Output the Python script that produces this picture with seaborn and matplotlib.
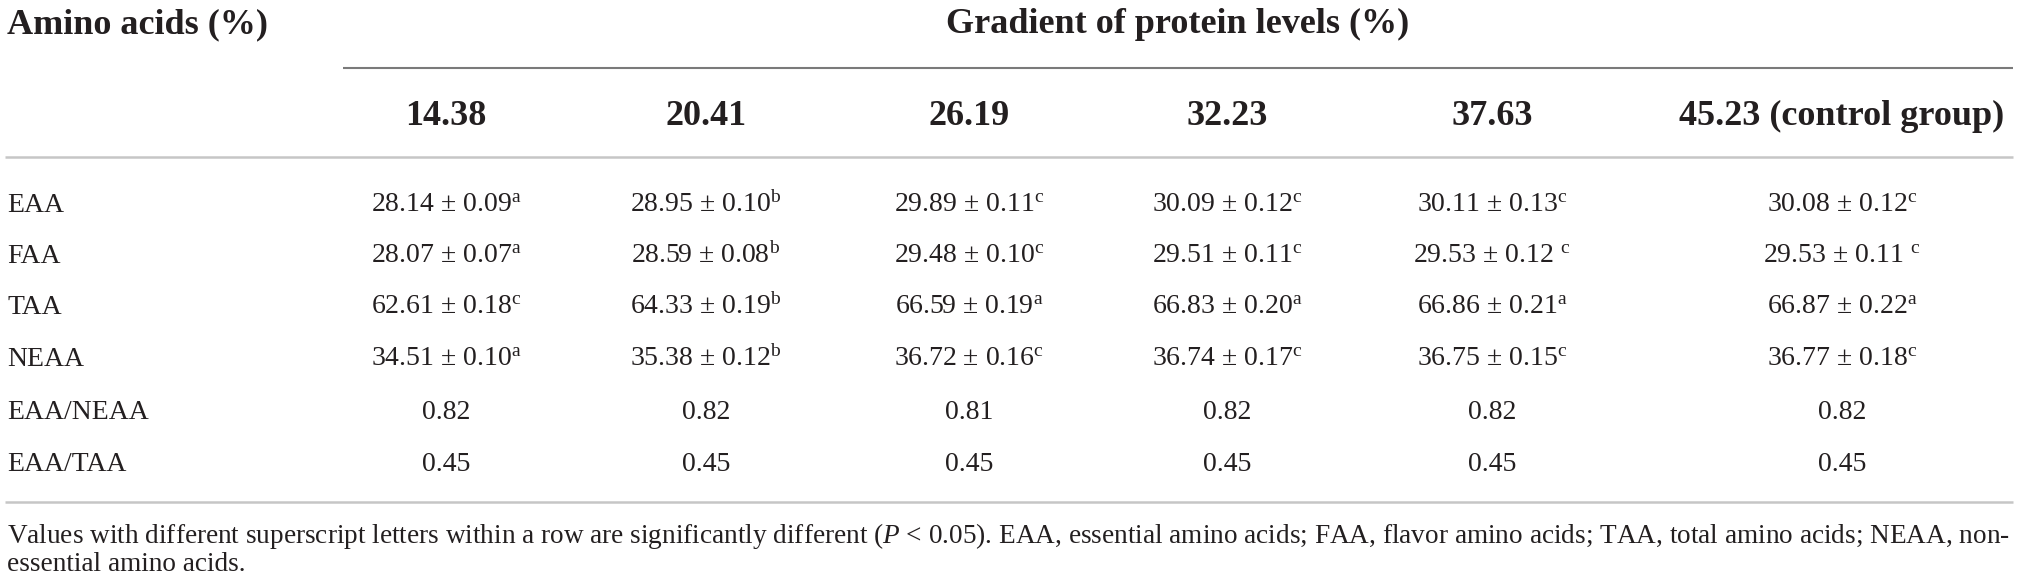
import matplotlib
matplotlib.use("Agg")
import matplotlib.pyplot as plt
import seaborn as sns

# ---------------- data ----------------
stub_header = "Amino acids (%)"
spanner_header = "Gradient of protein levels (%)"
protein_levels = ["14.38", "20.41", "26.19", "32.23", "37.63", "45.23 (control group)"]
row_labels = ["EAA", "FAA", "TAA", "NEAA", "EAA/NEAA", "EAA/TAA"]

eaa_mean = [28.14, 28.95, 29.89, 30.09, 30.11, 30.08]
eaa_sd = [0.09, 0.10, 0.11, 0.12, 0.13, 0.12]
eaa_letter = ["a", "b", "c", "c", "c", "c"]

faa_mean = [28.07, 28.59, 29.48, 29.51, 29.53, 29.53]
faa_sd = [0.07, 0.08, 0.10, 0.11, 0.12, 0.11]
faa_letter = ["a", "b", "c", "c", " c", " c"]

taa_mean = [62.61, 64.33, 66.59, 66.83, 66.86, 66.87]
taa_sd = [0.18, 0.19, 0.19, 0.20, 0.21, 0.22]
taa_letter = ["c", "b", "a", "a", "a", "a"]

neaa_mean = [34.51, 35.38, 36.72, 36.74, 36.75, 36.77]
neaa_sd = [0.10, 0.12, 0.16, 0.17, 0.15, 0.18]
neaa_letter = ["a", "b", "c", "c", "c", "c"]

eaa_neaa_ratio = [0.82, 0.82, 0.81, 0.82, 0.82, 0.82]
eaa_taa_ratio = [0.45, 0.45, 0.45, 0.45, 0.45, 0.45]

footnote_1 = ("Values with different superscript letters within a row are significantly different "
              "($\\mathit{P}$ < 0.05). EAA, essential amino acids; FAA, flavor amino acids; "
              "TAA, total amino acids; NEAA, non-")
footnote_2 = "essential amino acids."

# ---------------- style ----------------
sns.set_theme(style="white")
plt.rcParams["font.family"] = ["Liberation Serif", "DejaVu Serif"]
plt.rcParams["mathtext.fontset"] = "custom"
plt.rcParams["mathtext.rm"] = "Liberation Serif"
plt.rcParams["mathtext.it"] = "Liberation Serif:italic"
plt.rcParams["mathtext.bf"] = "Liberation Serif:bold"

TXT = "#231f20"
W, H = 2019, 586

fig = plt.figure(figsize=(W / 100, H / 100), dpi=100)
ax = fig.add_axes([0, 0, 1, 1])
ax.set_xlim(0, W)
ax.set_ylim(H, 0)
ax.axis("off")


def fmt(m, s, l):
    if l.startswith(" "):
        return f"{m:.2f} ± {s:.2f} $^{{\\mathrm{{{l.strip()}}}}}$"
    return f"{m:.2f} ± {s:.2f}$^{{\\mathrm{{{l}}}}}$"


cells = [
    [fmt(m, s, l) for m, s, l in zip(eaa_mean, eaa_sd, eaa_letter)],
    [fmt(m, s, l) for m, s, l in zip(faa_mean, faa_sd, faa_letter)],
    [fmt(m, s, l) for m, s, l in zip(taa_mean, taa_sd, taa_letter)],
    [fmt(m, s, l) for m, s, l in zip(neaa_mean, neaa_sd, neaa_letter)],
    [f"{v:.2f}" for v in eaa_neaa_ratio],
    [f"{v:.2f}" for v in eaa_taa_ratio],
]

# layout
col_x = [446, 706, 969, 1227, 1492, 1842]
row_y = [212, 263, 314, 366, 419, 471]
left = 7
head_fs = 26
body_fs = 20

# headers
ax.text(left, 33, stub_header, fontsize=head_fs, fontweight="bold", color=TXT,
        ha="left", va="baseline")
ax.text(1178, 33, spanner_header, fontsize=head_fs, fontweight="bold", color=TXT,
        ha="center", va="baseline")
ax.plot([343, 2013], [68, 68], color="#7a7a7a", lw=1.5, solid_capstyle="butt")
for x, lab in zip(col_x, protein_levels):
    ax.text(x, 125, lab, fontsize=head_fs, fontweight="bold", color=TXT,
            ha="center", va="baseline")
ax.plot([5, 2013], [157, 157], color="#c6c6c6", lw=1.8, solid_capstyle="butt")

# body
for y, lab, row in zip(row_y, row_labels, cells):
    ax.text(left, y, lab, fontsize=body_fs, color=TXT, ha="left", va="baseline")
    for x, c in zip(col_x, row):
        ax.text(x, y, c, fontsize=body_fs, color=TXT, ha="center", va="baseline")

ax.plot([5, 2013], [502, 502], color="#c6c6c6", lw=1.8, solid_capstyle="butt")

# footnote, fitted to the table width
fn_fs = 16.5
t1 = ax.text(left, 543, footnote_1, fontsize=fn_fs, color=TXT, ha="left", va="baseline")
fig.canvas.draw()
r = fig.canvas.get_renderer()
wpx = t1.get_window_extent(r).width
fn_fs = fn_fs * (2011 - left) / wpx
t1.set_fontsize(fn_fs)
ax.text(left, 571, footnote_2, fontsize=fn_fs, color=TXT, ha="left", va="baseline")

fig.savefig("out.png", dpi=100, facecolor="white")
